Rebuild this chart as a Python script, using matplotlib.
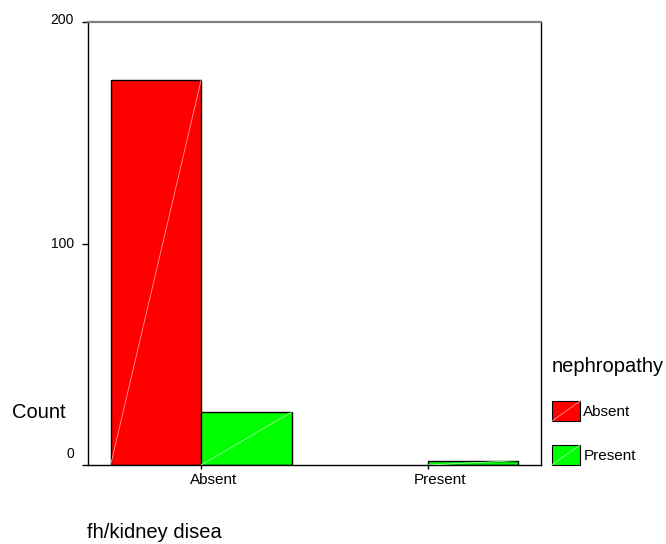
import matplotlib
matplotlib.use("Agg")
import matplotlib.pyplot as plt
import matplotlib.transforms as mtransforms
from matplotlib.patches import Rectangle
from matplotlib.lines import Line2D
from matplotlib.legend_handler import HandlerBase
import numpy as np

plt.rcParams["font.family"] = ["Liberation Sans", "DejaVu Sans"]

# counts of nephropathy status by family history of kidney disease
groups = ["Absent", "Present"]
series = ["Absent", "Present"]
counts_absent = [174, 0]
counts_present = [24, 2]
yticks = [0, 100, 200]

fills = ["#ff0000", "#00ff00"]
streaks = ["#ff9a9a", "#9aff9a"]

W, H = 666, 544
fig = plt.figure(figsize=(W / 100, H / 100), dpi=100)
ax = fig.add_axes([88 / W, 1 - 465 / H, (541 - 88) / W, (465 - 22) / H])

x = np.arange(len(groups))
width = 0.4
for i, (vals, fc, sc) in enumerate(zip([counts_absent, counts_present], fills, streaks)):
    bars = ax.bar(x + (i - 1) * width, vals, width, align="edge", color=fc,
                  edgecolor="black", linewidth=1.0, label=series[i], zorder=2)
    for r in bars:
        if r.get_height() > 0:
            ax.plot([r.get_x(), r.get_x() + r.get_width()], [0, r.get_height()],
                    color=sc, linewidth=0.6, zorder=3)
        else:
            r.set_linewidth(0)

ax.set_xlim(-0.5, 1.5)
ax.set_ylim(0, 200)
ax.set_xticks(x)
ax.set_xticklabels(groups, fontsize=11)
ax.set_yticks(yticks)
ax.set_yticklabels([str(v) for v in yticks], fontsize=10)
ax.tick_params(axis="x", direction="out", length=3, width=1, pad=3)
ax.tick_params(axis="y", direction="out", length=4, width=1, pad=6)

# shift tick labels the way the original layout places them
for lbl in ax.get_xticklabels():
    lbl.set_transform(lbl.get_transform() +
                      mtransforms.ScaledTranslation(12 / 100, 0, fig.dpi_scale_trans))
for lbl, dy in zip(ax.get_yticklabels(), [12, 1, 4]):
    lbl.set_transform(lbl.get_transform() +
                      mtransforms.ScaledTranslation(0, dy / 100, fig.dpi_scale_trans))

for side in ["left", "bottom", "right"]:
    ax.spines[side].set_color("black")
    ax.spines[side].set_linewidth(1.0)
ax.spines["top"].set_color("#7f7f7f")
ax.spines["top"].set_linewidth(1.6)

fig.text(12 / W, 1 - 413 / H, "Count", fontsize=14.5, va="center", ha="left")
fig.text(87 / W, 1 - 533 / H, "fh/kidney disea", fontsize=14.5, va="center", ha="left")


class StreakPatch(HandlerBase):
    def create_artists(self, legend, orig, xd, yd, width, height, fontsize, trans):
        rect = Rectangle((-xd, -yd), width, height, facecolor=orig.get_facecolor(),
                         edgecolor="black", linewidth=0.8, transform=trans)
        c = streaks[fills.index(matplotlib.colors.to_hex(orig.get_facecolor()))]
        line = Line2D([-xd, -xd + width], [-yd, -yd + height], color=c,
                      linewidth=0.6, transform=trans)
        return [rect, line]


handles = [Rectangle((0, 0), 1, 1, facecolor=c) for c in fills]
leg = fig.legend(handles, series, loc="upper left",
                 bbox_to_anchor=(552 / W, 1 - 357 / H), frameon=False,
                 fontsize=11, title="nephropathy", title_fontsize=14.5,
                 handlelength=1.85, handleheight=1.64, handletextpad=0.2,
                 labelspacing=1.55, borderpad=0, borderaxespad=0,
                 alignment="left", handler_map={Rectangle: StreakPatch()})
leg._legend_box.sep = 18

fig.savefig("out.png", dpi=100)
